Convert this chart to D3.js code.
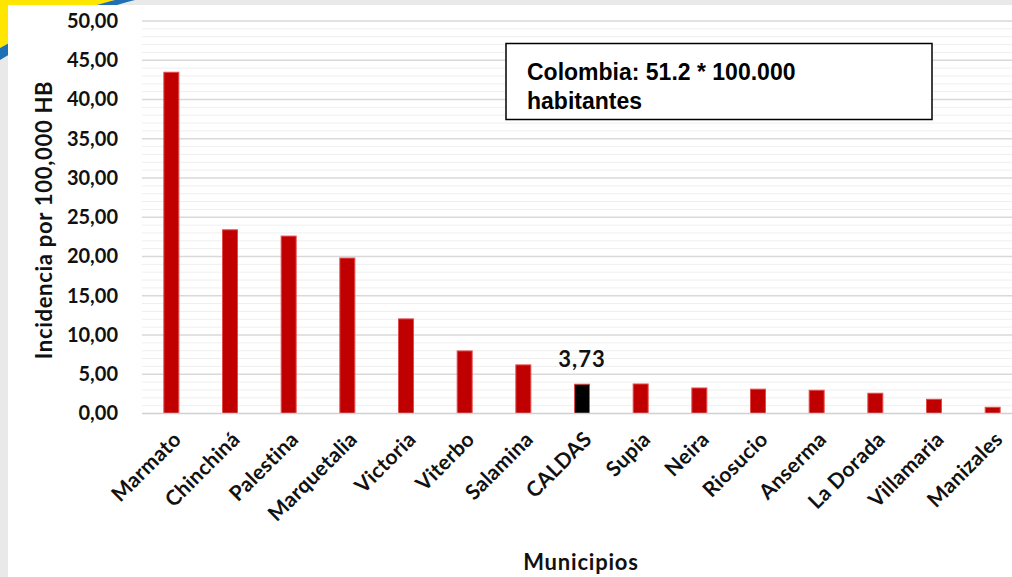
<!DOCTYPE html>
<html><head><meta charset="utf-8">
<script src="https://cdn.jsdelivr.net/npm/d3@7"></script>
<style>html,body{margin:0;padding:0;background:#fff;overflow:hidden}</style>
</head><body>
<svg id="chart" width="1012" height="577"></svg>
<script>
const categories = ["Marmato","Chinchiná","Palestina","Marquetalia","Victoria","Viterbo","Salamina","CALDAS","Supia","Neira","Riosucio","Anserma","La Dorada","Villamaria","Manizales"];
const values = [43.47, 23.4, 22.6, 19.8, 12.05, 7.97, 6.19, 3.73, 3.76, 3.25, 3.1, 2.96, 2.58, 1.81, 0.79];
const highlight = "CALDAS";
const yTicks = [0,5,10,15,20,25,30,35,40,45,50];
const annotation = ["Colombia: 51.2 * 100.000", "habitantes"];
const yTitle = "Incidencia por 100,000 HB";
const xTitle = "Municipios";

const FONT = "Lato, 'Open Sans', sans-serif";
const svg = d3.select("#chart");
// decorative background
svg.append("rect").attr("width",1012).attr("height",577).attr("fill","#e9e9e9");
svg.append("path").attr("d","M0,0 L115,0 C90,6 50,20 0,48 Z").attr("fill","#ffe600");
svg.append("path").attr("d","M115,0 L135,0 C100,8 50,30 0,60 L0,48 C50,20 90,6 115,0 Z").attr("fill","#1f6fb5");
svg.append("rect").attr("x",8).attr("y",5).attr("width",1004).attr("height",572).attr("fill","#fff");

const x = d3.scaleBand().domain(categories).range([142,1022]).paddingInner(0.745).paddingOuter(0.3725);
const y = d3.scaleLinear().domain([0,50]).range([413.5,21]);

const g = svg.append("g");
const minor = d3.range(1,50).filter(v=>v%5!==0);
g.selectAll(".minor").data(minor).enter().append("line")
  .attr("x1",142).attr("x2",1012).attr("y1",d=>y(d)).attr("y2",d=>y(d))
  .attr("stroke","#efefef").attr("stroke-width",1);
g.selectAll(".major").data(yTicks.filter(v=>v>0)).enter().append("line")
  .attr("x1",142).attr("x2",1012).attr("y1",d=>y(d)).attr("y2",d=>y(d))
  .attr("stroke","#d9d9d9").attr("stroke-width",1.5);

// y axis
const yAxis = d3.axisLeft(y).tickValues(yTicks).tickSize(0).tickPadding(0)
  .tickFormat(d=>d3.format(".2f")(d).replace(".",","));
const ya = svg.append("g").attr("transform","translate(118,0)").call(yAxis);
ya.select(".domain").remove();
ya.selectAll("text").attr("font-family",FONT).attr("font-weight","bold")
  .attr("font-size",20).attr("fill","#111");

// bars
svg.selectAll(".bar").data(categories).enter().append("rect")
  .attr("x",d=>x(d)).attr("width",x.bandwidth())
  .attr("y",(d,i)=>y(values[i])).attr("height",(d,i)=>y(0)-y(values[i]))
  .attr("fill",d=>d===highlight?"#000":"#c00000")
  .attr("stroke","#e34a4a").attr("stroke-width",1);

// baseline
svg.append("line").attr("x1",142).attr("x2",1012).attr("y1",y(0)).attr("y2",y(0))
  .attr("stroke","#d0d0d0").attr("stroke-width",1.5);

// x axis
const xAxis = d3.axisBottom(x).tickSize(0).tickPadding(0);
const xa = svg.append("g").attr("transform",`translate(0,${y(0)})`).call(xAxis);
xa.select(".domain").remove();
xa.selectAll("text").attr("font-family",FONT).attr("font-weight","bold")
  .attr("font-size",21).attr("fill","#111").attr("letter-spacing",0.3)
  .attr("text-anchor","end").attr("dy","0.35em")
  .attr("transform","translate(6,22) rotate(-45)");

// highlight label
const hi = categories.indexOf(highlight);
svg.append("text").attr("x",x(highlight)+x.bandwidth()/2).attr("y",y(values[hi])-17)
  .attr("text-anchor","middle").attr("font-family",FONT).attr("letter-spacing",1)
  .attr("font-weight","bold").attr("font-size",22).attr("fill","#111")
  .text(d3.format(".2f")(values[hi]).replace(".",","));

// titles
svg.append("text").attr("transform","translate(52,220) rotate(-90)").attr("text-anchor","middle")
  .attr("font-family",FONT).attr("font-weight","bold").attr("font-size",22).attr("letter-spacing",0.7)
  .attr("fill","#111").text(yTitle);
svg.append("text").attr("x",581).attr("y",570).attr("text-anchor","middle")
  .attr("font-family",FONT).attr("font-weight","bold").attr("font-size",22).attr("letter-spacing",0.8)
  .attr("fill","#111").text(xTitle);

// annotation box
svg.append("rect").attr("x",506).attr("y",43.5).attr("width",426).attr("height",76)
  .attr("fill","#fff").attr("stroke","#000").attr("stroke-width",1.5);
svg.selectAll(".ann").data(annotation).enter().append("text")
  .attr("x",527).attr("y",(d,i)=>80+i*29)
  .attr("font-family","'Liberation Sans', Arial, sans-serif").attr("font-weight","bold")
  .attr("font-size",23).attr("fill","#000").text(d=>d);
</script>
</body></html>
